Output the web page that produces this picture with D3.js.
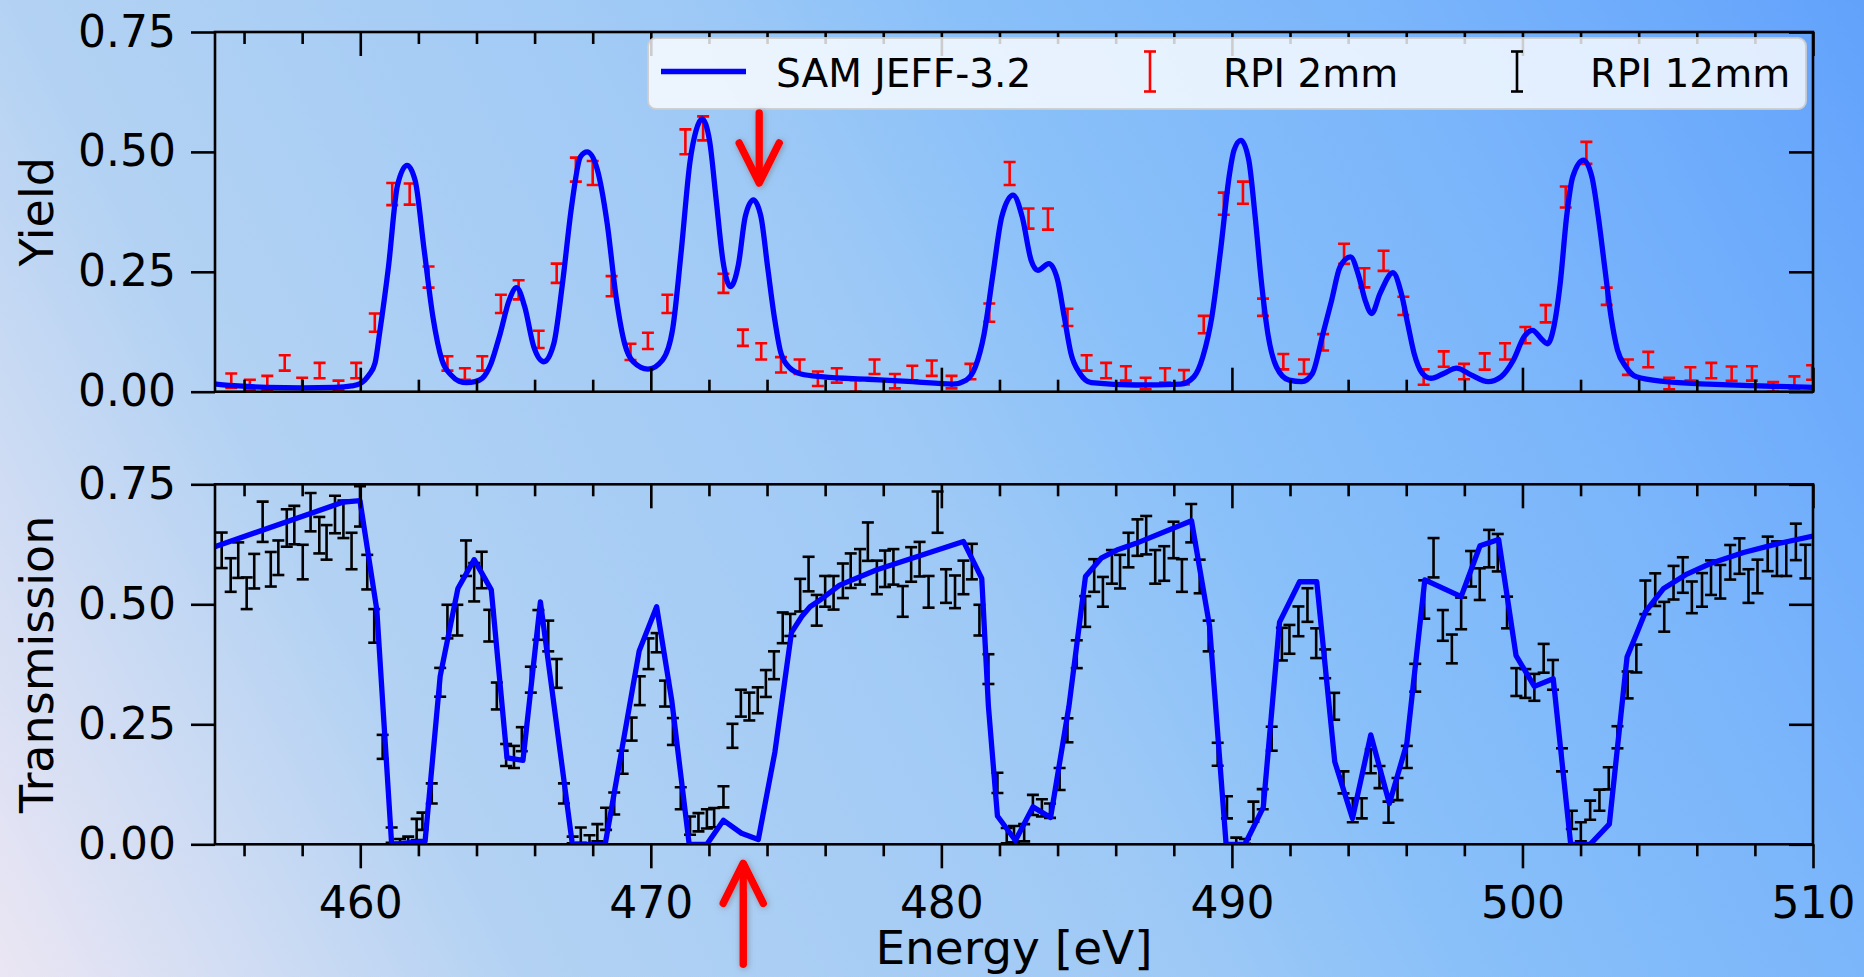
<!DOCTYPE html>
<html><head><meta charset="utf-8">
<script src="https://cdn.jsdelivr.net/npm/d3@7"></script>
<style>html,body{margin:0;padding:0;overflow:hidden;background:#fff}svg{display:block}text{font-family:"DejaVu Sans",sans-serif;fill:#000}</style>
</head><body><svg id="chart" width="1864" height="977"></svg>
<script>
// ---------- data ----------
// SAM JEFF-3.2 yield curve: [energy eV, yield]
const samYield = [[455.04,0.016],[455.8,0.012],[456.8,0.009],[458.0,0.008],[459.1,0.009],[459.7,0.012],[460.0,0.017],[460.3,0.035],[460.51,0.06],[460.66,0.12],[460.97,0.26],[461.28,0.43],[461.61,0.472],[461.89,0.44],[462.2,0.295],[462.5,0.156],[462.81,0.066],[463.12,0.035],[463.4,0.022],[463.66,0.019],[463.95,0.021],[464.2,0.028],[464.5,0.059],[464.81,0.12],[465.12,0.19],[465.38,0.217],[465.66,0.177],[465.97,0.094],[466.32,0.0625],[466.66,0.10],[466.96,0.226],[467.27,0.385],[467.58,0.49],[467.81,0.50],[468.15,0.465],[468.5,0.35],[468.8,0.2],[469.1,0.1],[469.4,0.062],[469.9,0.047],[470.4,0.066],[470.75,0.13],[471.05,0.295],[471.35,0.48],[471.56,0.545],[471.76,0.569],[472.02,0.524],[472.25,0.40],[472.48,0.274],[472.74,0.219],[473.02,0.267],[473.25,0.365],[473.53,0.40],[473.79,0.365],[474.02,0.26],[474.25,0.156],[474.48,0.08],[474.79,0.049],[475.17,0.037],[475.94,0.031],[477.47,0.026],[479.01,0.021],[480.39,0.016],[480.85,0.024],[481.17,0.052],[481.47,0.12],[481.78,0.247],[482.08,0.365],[482.47,0.41],[482.78,0.365],[483.09,0.274],[483.32,0.253],[483.7,0.267],[484.0,0.233],[484.23,0.156],[484.46,0.08],[484.77,0.038],[485.16,0.019],[486.7,0.014],[488.23,0.016],[488.69,0.031],[489.0,0.073],[489.31,0.156],[489.61,0.295],[489.92,0.455],[490.07,0.503],[490.31,0.524],[490.58,0.483],[490.8,0.365],[491.02,0.226],[491.24,0.12],[491.53,0.052],[491.97,0.024],[492.41,0.021],[492.77,0.038],[493.13,0.12],[493.43,0.19],[493.72,0.26],[494.08,0.281],[494.37,0.24],[494.59,0.19],[494.81,0.163],[495.1,0.205],[495.54,0.248],[495.83,0.205],[496.05,0.142],[496.27,0.08],[496.56,0.038],[496.85,0.028],[497.29,0.038],[497.73,0.049],[498.23,0.035],[498.82,0.021],[499.26,0.031],[499.69,0.066],[500.06,0.115],[500.35,0.128],[500.64,0.111],[500.86,0.10],[501.08,0.135],[501.3,0.226],[501.52,0.365],[501.73,0.448],[502.1,0.483],[502.39,0.448],[502.61,0.365],[502.83,0.26],[503.05,0.156],[503.27,0.087],[503.56,0.052],[503.92,0.031],[504.94,0.021],[506.4,0.016],[507.86,0.0125],[510.0,0.009]];

// RPI 2mm yield: [energy, yield, error]
const rpi2mm = [[455.56,0.023,0.015],[456.2,0.014,0.011],[456.8,0.018,0.015],[457.4,0.06,0.016],[458.0,0.019,0.01],[458.6,0.044,0.016],[459.25,0.013,0.01],[459.86,0.044,0.016],[460.5,0.144,0.019],[461.1,0.412,0.023],[461.7,0.412,0.022],[462.35,0.239,0.022],[463.0,0.059,0.015],[463.6,0.037,0.012],[464.2,0.059,0.015],[464.84,0.183,0.019],[465.45,0.2125,0.02],[466.14,0.109,0.018],[466.76,0.247,0.02],[467.42,0.463,0.025],[468.0,0.456,0.025],[468.65,0.22,0.021],[469.3,0.083,0.017],[469.9,0.106,0.017],[470.57,0.183,0.019],[471.19,0.521,0.026],[471.8,0.549,0.025],[472.5,0.226,0.02],[473.17,0.1125,0.017],[473.8,0.084,0.017],[474.48,0.056,0.016],[475.12,0.052,0.015],[475.75,0.027,0.015],[476.4,0.034,0.015],[477.05,0.012,0.012],[477.7,0.052,0.015],[478.4,0.022,0.015],[479.0,0.039,0.015],[479.67,0.049,0.016],[480.35,0.02,0.013],[481.0,0.042,0.016],[481.65,0.165,0.019],[482.35,0.455,0.024],[483.0,0.361,0.021],[483.67,0.36,0.022],[484.34,0.155,0.018],[485.0,0.06,0.016],[485.67,0.044,0.016],[486.35,0.038,0.015],[487.03,0.017,0.012],[487.7,0.034,0.015],[488.35,0.03,0.015],[489.03,0.14,0.018],[489.72,0.392,0.023],[490.38,0.415,0.023],[491.07,0.176,0.018],[491.77,0.0625,0.016],[492.48,0.052,0.015],[493.14,0.103,0.017],[493.86,0.2875,0.021],[494.56,0.2375,0.02],[495.22,0.273,0.021],[495.9,0.179,0.019],[496.6,0.0305,0.016],[497.29,0.068,0.016],[497.99,0.042,0.016],[498.7,0.063,0.017],[499.4,0.084,0.017],[500.1,0.118,0.017],[500.8,0.1625,0.018],[501.49,0.406,0.022],[502.2,0.498,0.023],[502.9,0.199,0.018],[503.63,0.051,0.016],[504.33,0.067,0.016],[505.05,0.017,0.012],[505.78,0.037,0.014],[506.5,0.044,0.016],[507.2,0.0375,0.015],[507.9,0.038,0.015],[508.63,0.01,0.01],[509.36,0.019,0.013],[509.97,0.04,0.015]];

// SAM JEFF-3.2 transmission: [energy, transmission]
const samTrans = [[455.04,0.621],[459.42,0.713],[459.99,0.716],[460.57,0.488],[461.08,0.0],[462.23,0.006],[462.75,0.35],[463.36,0.533],[463.92,0.593],[464.51,0.53],[465.05,0.18],[465.6,0.175],[466.2,0.505],[467.3,0.0],[468.43,0.0],[469.6,0.403],[470.2,0.495],[470.72,0.3],[471.32,0.0],[471.93,0.0],[472.5,0.05],[473.12,0.023],[473.7,0.01],[474.27,0.192],[474.84,0.441],[475.2,0.475],[475.48,0.495],[475.85,0.51],[476.5,0.54],[477.78,0.572],[480.76,0.631],[481.39,0.554],[481.62,0.287],[481.93,0.059],[482.55,0.008],[483.15,0.078],[483.76,0.056],[484.39,0.287],[484.96,0.558],[485.5,0.596],[486.04,0.613],[486.7,0.627],[488.61,0.674],[489.23,0.455],[489.8,0.0],[490.45,0.0],[491.08,0.077],[491.64,0.463],[492.33,0.547],[492.92,0.547],[493.54,0.172],[494.15,0.054],[494.78,0.228],[495.42,0.085],[496.02,0.21],[496.64,0.551],[497.89,0.516],[498.54,0.622],[499.18,0.635],[499.78,0.393],[500.41,0.329],[501.06,0.345],[501.66,0.0],[502.33,0.0],[502.99,0.042],[503.6,0.39],[503.94,0.44],[504.23,0.484],[504.86,0.533],[505.66,0.563],[506.47,0.585],[507.61,0.608],[508.76,0.626],[510.0,0.642]];

// RPI 12mm transmission: [energy, transmission, error]
const rpi12mm = [[455.23,0.6125,0.037],[455.54,0.561,0.035],[455.8,0.592,0.037],[456.09,0.523,0.033],[456.35,0.569,0.036],[456.64,0.672,0.042],[456.92,0.573,0.036],[457.18,0.597,0.036],[457.47,0.659,0.039],[457.73,0.665,0.04],[458.02,0.588,0.036],[458.29,0.692,0.04],[458.59,0.644,0.038],[458.84,0.629,0.036],[459.13,0.687,0.039],[459.42,0.677,0.039],[459.7,0.611,0.038],[459.99,0.704,0.042],[460.24,0.567,0.036],[460.48,0.455,0.035],[460.77,0.203,0.025],[461.08,0.019,0.016],[461.37,0.006,0.005],[461.65,0.009,0.007],[461.94,0.031,0.022],[462.14,0.048,0.018],[462.46,0.106,0.021],[462.75,0.3375,0.03],[463.0,0.464,0.035],[463.34,0.467,0.032],[463.64,0.596,0.037],[463.92,0.546,0.04],[464.18,0.5715,0.038],[464.44,0.4555,0.033],[464.7,0.309,0.028],[465.02,0.186,0.023],[465.29,0.182,0.023],[465.56,0.219,0.025],[465.87,0.343,0.027],[466.13,0.457,0.031],[466.47,0.434,0.032],[466.76,0.356,0.03],[467.01,0.106,0.021],[467.31,0.009,0.007],[467.59,0.019,0.016],[467.89,0.01,0.009],[468.16,0.024,0.018],[468.46,0.053,0.023],[468.74,0.085,0.023],[469.03,0.171,0.024],[469.34,0.24,0.024],[469.62,0.32,0.03],[469.92,0.397,0.032],[470.2,0.42,0.02],[470.49,0.314,0.027],[470.76,0.235,0.028],[471.03,0.096,0.023],[471.35,0.039,0.019],[471.64,0.046,0.019],[471.93,0.053,0.02],[472.18,0.0555,0.02],[472.5,0.099,0.022],[472.81,0.226,0.025],[473.1,0.294,0.028],[473.39,0.287,0.029],[473.68,0.3,0.027],[473.96,0.335,0.028],[474.24,0.373,0.029],[474.54,0.451,0.032],[474.8,0.457,0.023],[475.14,0.519,0.034],[475.43,0.563,0.036],[475.71,0.4875,0.032],[476.0,0.527,0.032],[476.29,0.524,0.035],[476.61,0.549,0.036],[476.88,0.57,0.036],[477.2,0.578,0.037],[477.47,0.6305,0.04],[477.78,0.556,0.035],[478.06,0.574,0.038],[478.35,0.578,0.037],[478.67,0.506,0.032],[478.96,0.583,0.036],[479.25,0.594,0.036],[479.56,0.526,0.033],[479.87,0.692,0.043],[480.16,0.538,0.035],[480.47,0.526,0.034],[480.76,0.556,0.035],[481.05,0.589,0.037],[481.31,0.467,0.032],[481.62,0.365,0.031],[481.93,0.128,0.021],[482.25,0.018,0.016],[482.5,0.021,0.017],[482.85,0.024,0.018],[483.15,0.082,0.021],[483.46,0.076,0.018],[483.74,0.07,0.015],[484.07,0.136,0.023],[484.34,0.2375,0.025],[484.66,0.396,0.029],[484.95,0.485,0.032],[485.26,0.56,0.034],[485.56,0.526,0.031],[485.87,0.578,0.035],[486.15,0.568,0.035],[486.44,0.613,0.036],[486.75,0.639,0.038],[487.05,0.644,0.04],[487.36,0.578,0.035],[487.67,0.585,0.036],[487.99,0.634,0.038],[488.28,0.56,0.034],[488.6,0.669,0.04],[488.89,0.558,0.035],[489.2,0.434,0.032],[489.51,0.1875,0.024],[489.83,0.077,0.023],[490.15,0.008,0.006],[490.45,0.006,0.005],[490.74,0.068,0.021],[491.06,0.094,0.021],[491.37,0.22,0.025],[491.72,0.417,0.034],[491.98,0.427,0.03],[492.29,0.4645,0.031],[492.6,0.4985,0.035],[492.9,0.419,0.031],[493.21,0.376,0.03],[493.52,0.2875,0.028],[493.84,0.129,0.023],[494.16,0.071,0.025],[494.47,0.075,0.021],[494.78,0.173,0.025],[495.08,0.14,0.023],[495.39,0.067,0.022],[495.7,0.115,0.023],[496.02,0.182,0.023],[496.31,0.347,0.029],[496.62,0.51,0.04],[496.94,0.597,0.041],[497.26,0.456,0.032],[497.57,0.407,0.03],[497.89,0.481,0.033],[498.23,0.574,0.037],[498.53,0.542,0.033],[498.85,0.616,0.039],[499.15,0.6075,0.039],[499.47,0.483,0.033],[499.79,0.338,0.029],[500.1,0.335,0.03],[500.41,0.327,0.028],[500.73,0.3875,0.03],[501.05,0.353,0.031],[501.36,0.176,0.024],[501.7,0.051,0.019],[502.01,0.026,0.02],[502.33,0.071,0.02],[502.65,0.092,0.022],[502.97,0.1375,0.023],[503.27,0.223,0.023],[503.62,0.332,0.028],[503.92,0.387,0.029],[504.23,0.5145,0.035],[504.57,0.5305,0.034],[504.88,0.474,0.031],[505.2,0.545,0.035],[505.52,0.561,0.037],[505.83,0.5145,0.033],[506.18,0.53,0.035],[506.49,0.5555,0.036],[506.81,0.547,0.035],[507.15,0.5875,0.036],[507.47,0.6005,0.037],[507.78,0.538,0.035],[508.09,0.558,0.035],[508.44,0.605,0.036],[508.76,0.595,0.036],[509.08,0.595,0.036],[509.41,0.63,0.038],[509.74,0.589,0.035]];

const energyDomain = [455, 510];
const energyTicks = [460, 470, 480, 490, 500, 510];
const energyMinorTicks = [456, 458, 462, 464, 466, 468, 472, 474, 476, 478, 482, 484, 486, 488, 492, 494, 496, 498, 502, 504, 506, 508];
const valueTicks = [0, 0.25, 0.5, 0.75];
const legendLabels = ["SAM JEFF-3.2", "RPI 2mm", "RPI 12mm"];
const xLabel = "Energy [eV]";
const yLabels = ["Yield", "Transmission"];
const arrowEnergies = [473.73, 473.18];   // down arrow (top panel), up arrow (below bottom panel)

// ---------- layout ----------
const W = 1864, H = 977;
const L = 215, R = 1813;
const panels = [{top: 32, bottom: 391.7}, {top: 484.3, bottom: 844.3}];
const BLUE = "#0000ff", RED = "#ff0000", BLACK = "#000000";

const svg = d3.select("#chart");
const defs = svg.append("defs");
const bg = defs.append("linearGradient").attr("id", "bg")
  .attr("gradientUnits", "userSpaceOnUse").attr("x1", 0).attr("y1", H).attr("x2", W).attr("y2", 0);
[[0, "#ebe6f3"], [0.22, "#b3d2f3"], [0.5, "#9ec9f6"], [0.62, "#89c0f9"], [0.8, "#7ab5fb"], [1, "#62a2fb"]]
  .forEach(([o, c]) => bg.append("stop").attr("offset", o).attr("stop-color", c));
const sh = defs.append("filter").attr("id", "shadow").attr("x", "-50%").attr("y", "-50%").attr("width", "200%").attr("height", "200%");
sh.append("feDropShadow").attr("dx", 1).attr("dy", 1).attr("stdDeviation", 3).attr("flood-color", "#666").attr("flood-opacity", 0.55);

svg.append("rect").attr("width", W).attr("height", H).attr("fill", "url(#bg)");

const x = d3.scaleLinear().domain(energyDomain).range([L, R]);
const yScales = panels.map(p => d3.scaleLinear().domain([0, 0.75]).range([p.bottom, p.top]));

panels.forEach((p, i) => {
  defs.append("clipPath").attr("id", "clip" + i).append("rect")
    .attr("x", L).attr("y", p.top).attr("width", R - L).attr("height", p.bottom - p.top);
});

function errorBars(g, data, y, color) {
  const cap = 6;
  const sel = g.selectAll("g.eb").data(data).join("g").attr("class", "eb")
    .attr("stroke", color).attr("stroke-width", 2.6).attr("fill", "none");
  sel.append("line").attr("x1", d => x(d[0])).attr("x2", d => x(d[0]))
    .attr("y1", d => y(d[1] - d[2])).attr("y2", d => y(d[1] + d[2]));
  sel.append("line").attr("x1", d => x(d[0]) - cap).attr("x2", d => x(d[0]) + cap)
    .attr("y1", d => y(d[1] + d[2])).attr("y2", d => y(d[1] + d[2]));
  sel.append("line").attr("x1", d => x(d[0]) - cap).attr("x2", d => x(d[0]) + cap)
    .attr("y1", d => y(d[1] - d[2])).attr("y2", d => y(d[1] - d[2]));
}

const series = [
  {line: samYield, bars: rpi2mm, color: RED, curve: d3.curveMonotoneX},
  {line: samTrans, bars: rpi12mm, color: BLACK, curve: d3.curveLinear}
];

series.forEach((s, i) => {
  const y = yScales[i];
  const g = svg.append("g").attr("clip-path", `url(#clip${i})`);
  errorBars(g.append("g"), s.bars, y, s.color);
  g.append("path").datum(s.line)
    .attr("d", d3.line().x(d => x(d[0])).y(d => y(d[1])).curve(s.curve))
    .attr("fill", "none").attr("stroke", BLUE).attr("stroke-width", 5.3)
    .attr("stroke-linejoin", "round").attr("stroke-linecap", "round");
});

function styleAxis(g) {
  g.select(".domain").remove();
  g.selectAll(".tick line").attr("stroke", BLACK).attr("stroke-width", 2.6);
  g.selectAll(".tick text").attr("font-size", 44).attr("font-family", "DejaVu Sans").attr("fill", BLACK);
}

panels.forEach((p, i) => {
  const y = yScales[i];
  svg.append("g").attr("transform", `translate(${L},0)`)
    .call(d3.axisLeft(y).tickValues(valueTicks).tickSize(24).tickPadding(15).tickFormat(d3.format(".2f"))).call(styleAxis);
  svg.append("g").attr("transform", `translate(${R},0)`)
    .call(d3.axisLeft(y).tickValues(valueTicks).tickSize(24).tickFormat("")).call(styleAxis);
  svg.append("g").attr("transform", `translate(0,${p.top})`)
    .call(d3.axisBottom(x).tickValues(energyTicks).tickSize(24).tickFormat("")).call(styleAxis);
  svg.append("g").attr("transform", `translate(0,${p.top})`)
    .call(d3.axisBottom(x).tickValues(energyMinorTicks).tickSize(12).tickFormat("")).call(styleAxis);
  if (i === 0) {
    svg.append("g").attr("transform", `translate(0,${p.bottom})`)
      .call(d3.axisTop(x).tickValues(energyTicks).tickSize(24).tickFormat("")).call(styleAxis);
    svg.append("g").attr("transform", `translate(0,${p.bottom})`)
      .call(d3.axisTop(x).tickValues(energyMinorTicks).tickSize(12).tickFormat("")).call(styleAxis);
  } else {
    svg.append("g").attr("transform", `translate(0,${p.bottom})`)
      .call(d3.axisBottom(x).tickValues(energyTicks).tickSize(24).tickPadding(18).tickFormat(d3.format("d"))).call(styleAxis);
    svg.append("g").attr("transform", `translate(0,${p.bottom})`)
      .call(d3.axisBottom(x).tickValues(energyMinorTicks).tickSize(12).tickFormat("")).call(styleAxis);
  }
  svg.append("rect").attr("x", L).attr("y", p.top).attr("width", R - L).attr("height", p.bottom - p.top)
    .attr("fill", "none").attr("stroke", BLACK).attr("stroke-width", 2.6);
  const cy = (p.top + p.bottom) / 2;
  svg.append("text").attr("transform", `translate(53,${cy}) rotate(-90)`)
    .attr("text-anchor", "middle").attr("font-size", 46).text(yLabels[i]);
});

svg.append("text").attr("x", (L + R) / 2).attr("y", 964).attr("text-anchor", "middle")
  .attr("font-size", 47).text(xLabel);

// ---------- legend ----------
const lg = svg.append("g");
const lgX = 648, lgY = 38, lgW = R - 7 - lgX, lgH = 71, lgMid = lgY + lgH / 2 - 2;
lg.append("rect").attr("x", lgX).attr("y", lgY).attr("width", lgW).attr("height", lgH).attr("rx", 8)
  .attr("fill", "#ffffff").attr("fill-opacity", 0.8).attr("stroke", "#cccccc").attr("stroke-opacity", 0.9).attr("stroke-width", 2);
lg.append("line").attr("x1", lgX + 13).attr("x2", lgX + 98).attr("y1", lgMid).attr("y2", lgMid)
  .attr("stroke", BLUE).attr("stroke-width", 5.3);
lg.append("text").attr("x", lgX + 128).attr("y", lgMid + 15).attr("font-size", 39).text(legendLabels[0]);
[[1150, RED, legendLabels[1], 1223], [1517, BLACK, legendLabels[2], 1590]].forEach(([ix, col, lab, tx]) => {
  const gg = lg.append("g").attr("stroke", col).attr("stroke-width", 2.6);
  gg.append("line").attr("x1", ix).attr("x2", ix).attr("y1", lgMid - 20).attr("y2", lgMid + 20);
  gg.append("line").attr("x1", ix - 6).attr("x2", ix + 6).attr("y1", lgMid - 20).attr("y2", lgMid - 20);
  gg.append("line").attr("x1", ix - 6).attr("x2", ix + 6).attr("y1", lgMid + 20).attr("y2", lgMid + 20);
  lg.append("text").attr("x", tx).attr("y", lgMid + 15).attr("font-size", 39).text(lab);
});

// ---------- arrows ----------
function arrow(xp, tail, tip) {
  const dir = tip > tail ? 1 : -1;
  const g = svg.append("g").attr("filter", "url(#shadow)").attr("stroke", RED).attr("stroke-width", 7.5)
    .attr("fill", "none").attr("stroke-linecap", "round").attr("stroke-linejoin", "round");
  g.append("line").attr("x1", xp).attr("x2", xp).attr("y1", tail).attr("y2", tip - dir * 3);
  g.append("path").attr("d", `M${xp - 20},${tip - dir * 40} L${xp},${tip} L${xp + 20},${tip - dir * 40}`);
}
arrow(x(arrowEnergies[0]), panels[0].top + 81, panels[0].top + 151);
arrow(x(arrowEnergies[1]), panels[1].bottom + 120, panels[1].bottom + 19);
</script>
</body></html>
